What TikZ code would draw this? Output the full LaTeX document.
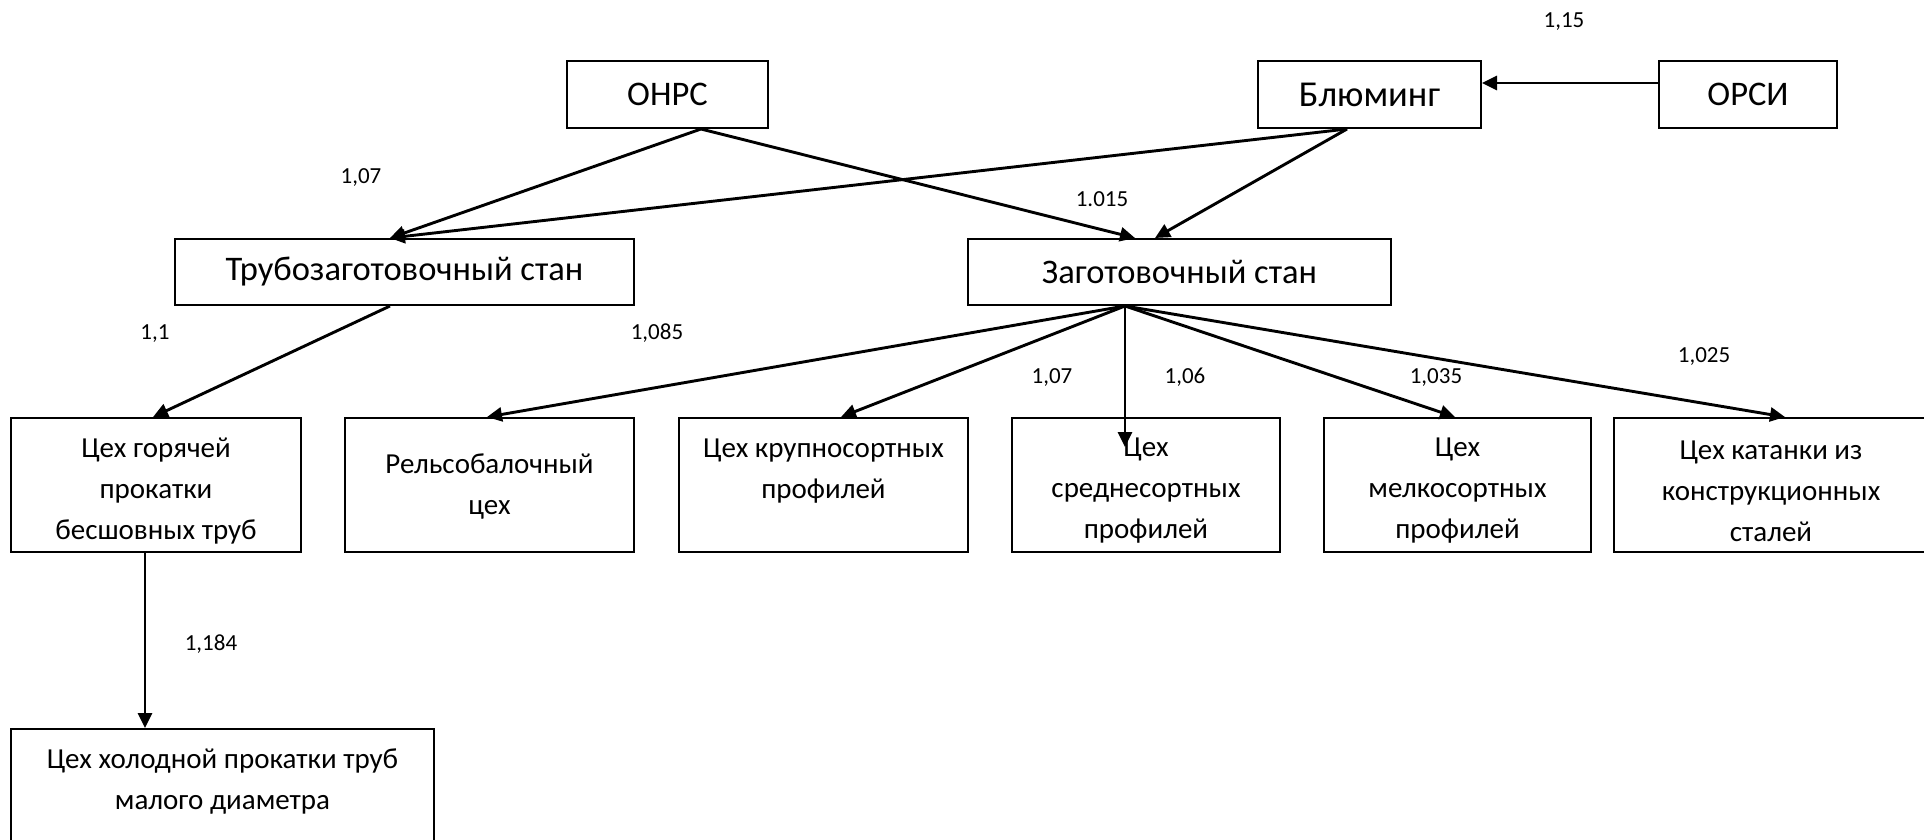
\documentclass[tikz,border=0pt]{standalone}
\usepackage{fontspec}
\setmainfont{Carlito}
\usetikzlibrary{arrows.meta,calc}
\begin{document}
\begin{tikzpicture}[x=1pt,y=-1pt,
  box/.style={draw=black,line width=2pt,inner sep=0pt,align=center,
    font=\fontsize{29}{41}\selectfont},
  bigbox/.style={box,font=\fontsize{34.5}{41}\selectfont},
  mtxt/.style={inner sep=0pt,align=center,font=\fontsize{29}{41}\selectfont},
  txt/.style={inner sep=0pt,anchor=base,font=\fontsize{29}{41}\selectfont},
  conn/.style={line width=2.9pt,-{Triangle[length=15pt,width=14pt]}},
  lbl/.style={font=\fontsize{23}{28}\selectfont,anchor=base,inner sep=0pt}]
\useasboundingbox (0,0) rectangle (1924,839);
\clip (0,0) rectangle (1924,839);
% top row
\node[bigbox,minimum width=201pt,minimum height=67pt] (onrs) at (667.5,94.5) {ОНРС};
\node[bigbox,font=\fontsize{36.5}{41}\selectfont,minimum width=223pt,minimum height=67pt] (blum) at (1369.5,94.5) {Блюминг};
\node[bigbox,minimum width=178pt,minimum height=67pt] (orsi) at (1748,94.5) {ОРСИ};
% second row
\node[bigbox,minimum width=459pt,minimum height=66pt] (truba) at (404.5,272) {Трубозаготовочный стан};
\node[bigbox,minimum width=423pt,minimum height=66pt] (zag) at (1179.5,272) {Заготовочный стан};
% third row
\node[box,minimum width=290pt,minimum height=134pt] (r1) at (156,485) {};
\node[box,minimum width=289pt,minimum height=134pt] (r2) at (489.5,485) {};
\node[box,minimum width=289pt,minimum height=134pt] (r3) at (823.5,485) {};
\node[box,minimum width=268pt,minimum height=134pt] (r4) at (1146,485) {};
\node[box,minimum width=267pt,minimum height=134pt] (r5) at (1457.5,485) {};
\node[box,minimum width=320pt,minimum height=134pt] (r6) at (1774,485) {};
\node[mtxt] (r1t) at (156,491) {Цех горячей\\прокатки\\бесшовных труб};
\node[mtxt] (r2t) at (489.5,486) {Рельсобалочный\\цех};
\node[mtxt] (r3t) at (823.5,471) {Цех крупносортных\\профилей};
\node[mtxt] (r4t) at (1146,491) {Цех\\среднесортных\\профилей};
\node[mtxt] (r5t) at (1457.5,491) {Цех\\мелкосортных\\профилей};
\node[mtxt] (r6t) at (1771,491) {Цех катанки из\\конструкционных\\сталей};
% bottom
\node[draw=black,line width=2pt,minimum width=423pt,minimum height=130pt,inner sep=0pt] (bot) at (222.5,794) {};
\node[txt] (botA) at (222.5,768) {Цех холодной прокатки труб};
\node[txt] (botB) at (222.5,809) {малого диаметра};
% connectors
\draw[conn] ([xshift=33.5pt]onrs.south) -- ([xshift=-14.5pt]truba.north);
\draw[conn] ([xshift=-22.5pt]blum.south) -- ([xshift=-14.5pt]truba.north);
\draw[conn] ([xshift=33.5pt]onrs.south) -- ([xshift=-44.5pt]zag.north);
\draw[conn] ([xshift=-22.5pt]blum.south) -- ([xshift=-24.5pt]zag.north);
\draw[conn] ([yshift=11.5pt]orsi.west) -- ([yshift=11.5pt]blum.east);
\draw[conn] ([xshift=-14.5pt]truba.south) -- ([xshift=-3pt]r1.north);
\draw[conn] ([xshift=-11pt]r1.south) -- ([xshift=-77.5pt]bot.north);
\draw[conn] ([xshift=-54.5pt]zag.south) -- ([xshift=-2.5pt]r2.north);
\draw[conn] ([xshift=-54.5pt]zag.south) -- ([xshift=17.5pt]r3.north);
\draw[conn] ([xshift=-54.5pt]zag.south) -- ([xshift=-21pt,yshift=-30pt]r4.north);
\draw[conn] ([xshift=-54.5pt]zag.south) -- ([xshift=-2.5pt]r5.north);
\draw[conn] ([xshift=-54.5pt]zag.south) -- ([xshift=11pt]r6.north);
% labels
\node[lbl] (l115) at (1564,27) {1,15};
\node[lbl] (l107a) at (361,183) {1,07};
\node[lbl] (l1015) at (1102,206) {1.015};
\node[lbl] (l11) at (155,339) {1,1};
\node[lbl] (l1085) at (657,339) {1,085};
\node[lbl] (l107b) at (1052,383) {1,07};
\node[lbl] (l106) at (1185,383) {1,06};
\node[lbl] (l1035) at (1436,383) {1,035};
\node[lbl] (l1025) at (1704,362) {1,025};
\node[lbl] (l1184) at (211,650) {1,184};
\end{tikzpicture}
\end{document}
